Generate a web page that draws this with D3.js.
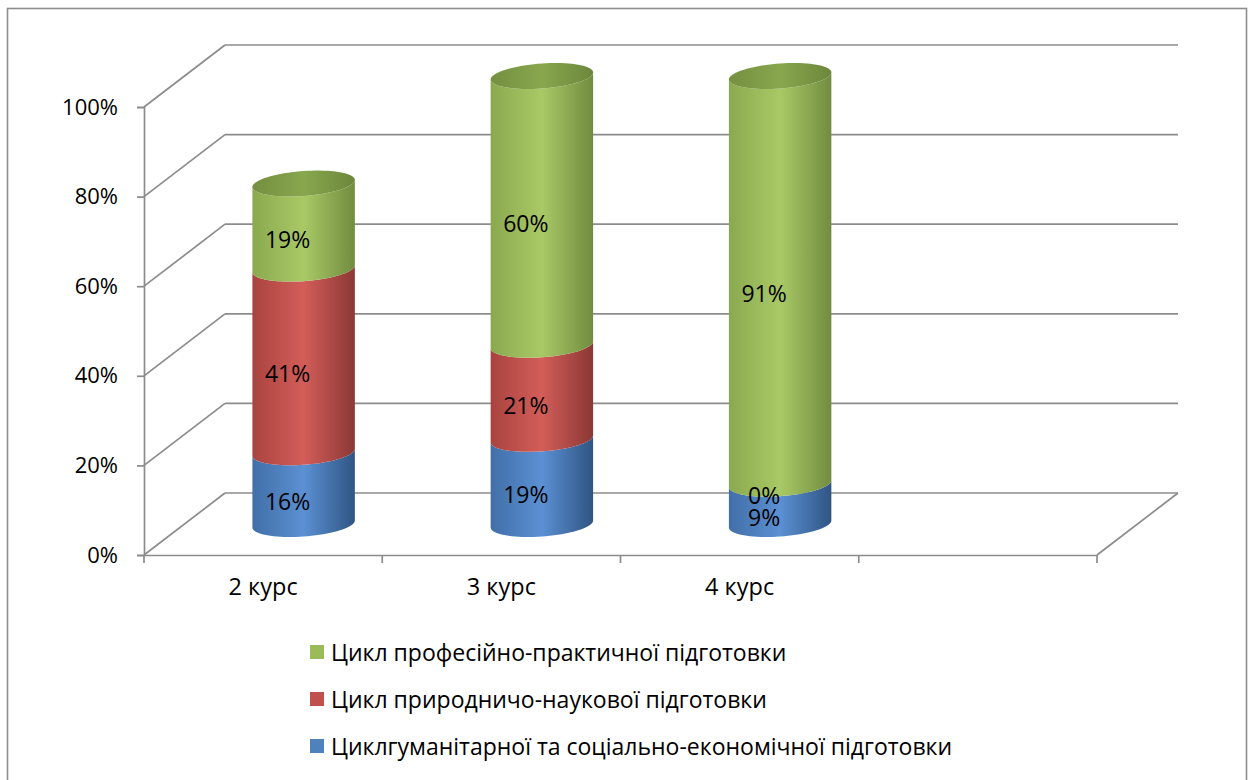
<!DOCTYPE html>
<html><head><meta charset="utf-8">
<script src="https://cdn.jsdelivr.net/npm/d3@7"></script>
<style>body{margin:0;background:#fff}svg{display:block}</style>
</head><body>
<svg id="c" width="1253" height="780"></svg>
<script>
// ---- data ----
const categories = ["2 курс", "3 курс", "4 курс", ""];
const seriesNames = [
  "Циклгуманітарної та соціально-економічної підготовки",
  "Цикл природничо-наукової підготовки",
  "Цикл професійно-практичної підготовки"
];
const humanities = [0.16, 0.19, 0.09];
const natural = [0.41, 0.21, 0.00];
const professional = [0.19, 0.60, 0.91];
const yTicks = [0, 0.2, 0.4, 0.6, 0.8, 1.0];

// ---- styles ----
const FONT = "'Open Sans', 'Noto Sans', sans-serif";
const palette = [
  {l:"#416fa8", m:"#5b90d3", r:"#2f5583"},
  {l:"#a9433f", m:"#d35d59", r:"#8b3835"},
  {l:"#8aa94f", m:"#a9c966", r:"#718c3f"}
];
const legendColors = ["#4f81bd", "#c0504d", "#9bbb59"];
const topFace = {l:"#748f40", m:"#88a74e", r:"#6c873b"};
const gridColor = "#8c8c8c";

const svg = d3.select("#c");
const defs = svg.append("defs");
function grad(id, c) {
  const g = defs.append("linearGradient").attr("id", id).attr("x1","0").attr("x2","1").attr("y1","0").attr("y2","0");
  g.append("stop").attr("offset","0%").attr("stop-color", c.l);
  g.append("stop").attr("offset","50%").attr("stop-color", c.m);
  g.append("stop").attr("offset","100%").attr("stop-color", c.r);
}
palette.forEach((c,i)=>grad("g"+i, c));
grad("gt", topFace);

// ---- scales ----
const y = d3.scaleLinear().domain([0,1]).range([555,107]);
const x = d3.scaleBand().domain(categories).range([144,1097]).padding(0);
const DX = 81, DY = -62;

// frame
svg.append("rect").attr("x",7.5).attr("y",8.5).attr("width",1239).attr("height",800)
  .attr("fill","none").attr("stroke","#8e8e8e").attr("stroke-width",1.6);

const walls = svg.append("g").attr("stroke", gridColor).attr("stroke-width",1.7).attr("fill","none");
yTicks.forEach(t=>{
  walls.append("line").attr("x1",144+DX).attr("x2",1097+DX).attr("y1",y(t)+DY).attr("y2",y(t)+DY);
  walls.append("line").attr("x1",144).attr("x2",144+DX).attr("y1",y(t)).attr("y2",y(t)+DY);
});
walls.append("line").attr("x1",1097).attr("x2",1097+DX).attr("y1",y(0)).attr("y2",y(0)+DY);

// front y axis
const yAxis = d3.axisLeft(y).tickValues(yTicks).tickFormat(d3.format(".0%")).tickSize(7).tickPadding(19);
const ya = svg.append("g").attr("transform","translate(144,0)").call(yAxis);
ya.select(".domain").attr("stroke",gridColor).attr("stroke-width",1.7);
ya.selectAll(".tick line").attr("stroke",gridColor).attr("stroke-width",1.7);
ya.selectAll(".tick text").attr("font-family",FONT).attr("font-size",22).attr("fill","#000");

// front x axis
const xAxis = d3.axisBottom(x).tickSize(0).tickPadding(23);
const xa = svg.append("g").attr("transform",`translate(0,${y(0)})`).call(xAxis);
xa.select(".domain").attr("stroke",gridColor).attr("stroke-width",1.7);
xa.selectAll(".tick text").attr("font-family",FONT).attr("font-size",23.5).attr("fill","#000");
const bounds = categories.map(c=>x(c)).concat([x.range()[1]]);
xa.selectAll("line.bt").data(bounds).join("line").attr("class","bt")
  .attr("x1",d=>d).attr("x2",d=>d).attr("y1",0).attr("y2",8)
  .attr("stroke",gridColor).attr("stroke-width",1.7);

// ---- cylinders ----
const rx = x.bandwidth()*0.215, ry = 12.5, skew = 3.5;
const ym = v => y(v) + DY/2;
function ep(cx, cy, t){ return [cx + rx*Math.cos(t), cy + ry*Math.sin(t) - skew*Math.cos(t)]; }
function arc(cx, cy, t0, t1, n=40){
  const pts=[]; for(let i=0;i<=n;i++){ const t=t0+(t1-t0)*i/n; pts.push(ep(cx,cy,t)); } return pts;
}
const series = [humanities, natural, professional];
const pct = d3.format(".0%");
const cyl = svg.append("g");
const labels = svg.append("g").attr("font-family",FONT).attr("font-size",23).attr("fill","#000").attr("text-anchor","middle");
categories.forEach((c,ci)=>{
  if (humanities[ci] === undefined) return;
  const cx = x(c) + x.bandwidth()/2 + DX/2;
  let acc = 0;
  series.forEach((s,si)=>{
    const v = s[ci], b = acc, t = acc + v; acc = t;
    const yb = ym(b), yt = ym(t);
    if (v > 0) {
      const pts = arc(cx, yb, Math.PI, 0).concat(arc(cx, yt, 0, Math.PI));
      cyl.append("path").attr("d", d3.line()(pts)+"Z").attr("fill", `url(#g${si})`);
    }
    labels.append("text").attr("x", cx-16).attr("y", ym((b+t)/2)+13 - (v === 0 ? 2 : 0))
      .attr("dominant-baseline","central").text(pct(v));
  });
  const full = arc(cx, ym(acc), 0, 2*Math.PI, 80);
  cyl.append("path").attr("d", d3.line()(full)+"Z").attr("fill","url(#gt)");
});

// ---- legend ----
const legend = svg.append("g").attr("font-family",FONT).attr("font-size",23).attr("fill","#000");
[2,1,0].forEach((si,i)=>{
  const yy = 652 + i*47;
  legend.append("rect").attr("x",310).attr("y",yy-7).attr("width",14).attr("height",14).attr("fill",legendColors[si]);
  legend.append("text").attr("x",331).attr("y",yy).attr("dominant-baseline","central").text(seriesNames[si]);
});
</script>
</body></html>
